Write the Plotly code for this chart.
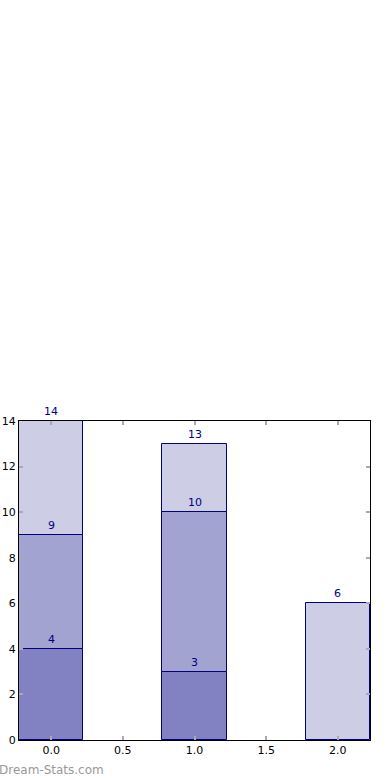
import plotly.graph_objects as go

categories = [0, 1, 2]
series_bottom = [4, 3, None]
series_middle = [5, 7, None]
series_top = [5, 3, 6]
tick_vals_x = [0.0, 0.5, 1.0, 1.5, 2.0]
tick_vals_y = [0, 2, 4, 6, 8, 10, 12, 14]

colors = ["#8282c2", "#a3a3d2", "#cdcde5"]
edge = "#000080"

fig = go.Figure()
series = [series_bottom, series_middle, series_top]
cum = [0.0] * len(categories)
for vals, col in zip(series, colors):
    xs, ys, bs = [], [], []
    for i, v in enumerate(vals):
        if v is not None:
            xs.append(categories[i])
            ys.append(v)
            bs.append(cum[i])
            cum[i] += v
            fig.add_annotation(x=categories[i], y=cum[i], text=str(int(cum[i])), showarrow=False,
                               yanchor="bottom", yshift=1, font=dict(color=edge, size=11, family="DejaVu Sans"))
    fig.add_trace(go.Bar(x=xs, y=ys, base=bs, width=0.45,
                         marker=dict(color=col, line=dict(color=edge, width=1)),
                         showlegend=False, hoverinfo="skip"))

axis_common = dict(showline=True, linecolor="black", linewidth=1, mirror="ticks", ticks="inside",
                   ticklen=4, tickcolor="#aaaaaa", tickwidth=2, showgrid=False, zeroline=False,
                   automargin=False,
                   tickfont=dict(family="DejaVu Sans", size=11, color="black"))
fig.update_layout(
    barmode="overlay",
    width=390, height=780,
    margin=dict(l=19, r=20, t=421, b=40),
    plot_bgcolor="white", paper_bgcolor="white",
    xaxis=dict(range=[-0.225, 2.225], tickvals=tick_vals_x, ticktext=["%.1f" % v for v in tick_vals_x], **axis_common),
    yaxis=dict(range=[0, 14], tickvals=tick_vals_y, **axis_common),
    bargap=0,
)
fig.add_annotation(text="Dream-Stats.com", xref="paper", yref="paper", x=-0.062, y=-0.094, xanchor="left",
                   yanchor="middle", showarrow=False, font=dict(family="DejaVu Sans", size=12, color="#999999"))
fig.write_html("out.html", config={"displayModeBar": False},
               post_script="document.body.style.margin='0';document.body.style.overflow='hidden';")
